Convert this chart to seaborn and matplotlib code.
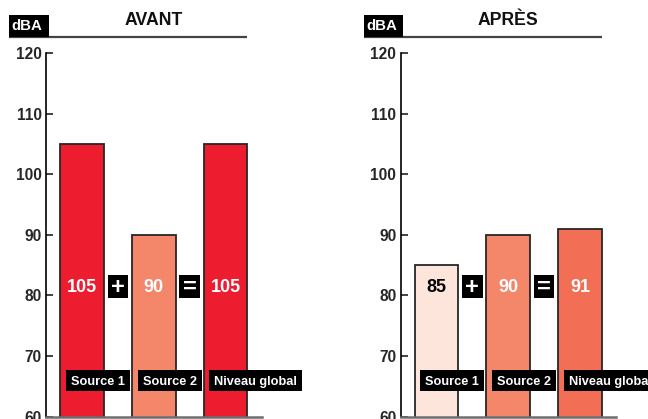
import matplotlib
matplotlib.use("Agg")
import matplotlib.pyplot as plt
import seaborn as sns
import pandas as pd
from matplotlib.patches import Rectangle
from matplotlib.transforms import blended_transform_factory

# ---- data ----
categories = ["Source 1", "Source 2", "Niveau global"]
avant_values = [105, 90, 105]
apres_values = [85, 90, 91]
avant_colors = ["#ED1C2E", "#F4866A", "#ED1C2E"]
apres_colors = ["#FDE5DC", "#F4866A", "#F26E55"]
avant_text_colors = ["white", "white", "white"]
apres_text_colors = ["black", "white", "white"]
panel_titles = ["AVANT", "APRÈS"]
operators = ["+", "="]
y_ticks = [60, 70, 80, 90, 100, 110, 120]
unit_label = "dBA"

sns.set_style("white")
plt.rcParams["font.family"] = ["Liberation Sans", "DejaVu Sans"]
plt.rcParams["font.weight"] = "bold"

W, H = 648, 419
fig = plt.figure(figsize=(W / 100, H / 100), dpi=100)

def fx(px):
    return px / W

def fy(py):
    return 1 - py / H

bar_width = 0.61
value_y = 81.3
label_y = 66.0
op_y = 81.5

panels = [
    (46, avant_values, avant_colors, avant_text_colors, panel_titles[0]),
    (400.5, apres_values, apres_colors, apres_text_colors, panel_titles[1]),
]

label_texts = []

for left_px, values, colors, tcolors, title in panels:
    ax = fig.add_axes([fx(left_px), fy(416.5), 215.5 / W, (416.5 - 53) / H])
    df = pd.DataFrame({"cat": categories, "val": values})
    sns.barplot(data=df, x="cat", y="val", hue="cat", palette=colors,
                order=categories, hue_order=categories, legend=False,
                width=bar_width, edgecolor="#262626", linewidth=1.3,
                saturation=1, ax=ax)
    ax.set_ylim(60, 120)
    ax.set_xlim(-0.5, 2.5)
    ax.set_yticks(y_ticks)
    ax.set_yticklabels([str(t) for t in y_ticks], fontsize=11.2, fontweight="bold")
    ax.set_xticks([])
    ax.set_xlabel("")
    ax.set_ylabel("")
    ax.tick_params(axis="y", direction="in", length=5, width=1.2, color="#222222",
                   pad=3, left=True)
    for s in ["top", "right"]:
        ax.spines[s].set_visible(False)
    ax.spines["left"].set_color("black")
    ax.spines["left"].set_linewidth(1.2)
    ax.spines["bottom"].set_color("#6e6e6e")
    ax.spines["bottom"].set_linewidth(1.8)
    ax.patch.set_alpha(0)

    for i, (v, tc) in enumerate(zip(values, tcolors)):
        ax.text(i, value_y, str(v), ha="center", va="center", color=tc,
                fontsize=13, fontweight="bold")
        t = ax.text(i - bar_width / 2 + 0.15, label_y, categories[i], ha="left",
                    va="center_baseline", color="white", fontsize=9.2,
                    fontweight="bold", clip_on=False, zorder=7)
        label_texts.append((ax, t))

    px_per_unit = 215.5 / 3
    px_per_y = (416.5 - 53) / 60
    bw = 20.5 / px_per_unit
    bh = 23 / px_per_y
    for j, op in enumerate(operators):
        xc = j + 0.5
        ax.add_patch(Rectangle((xc - bw / 2, op_y - bh / 2), bw, bh,
                               fc="black", ec="none", zorder=5))
        ax.annotate(op, (xc, op_y), xytext=(0, -5.6), textcoords="offset points",
                    ha="center", va="baseline", color="white",
                    fontsize=17, fontweight="bold", zorder=6)

    fig.text(fx(left_px + 107.75), fy(20.5), title, ha="center", va="center",
             fontsize=12.7, fontweight="bold", color="#111111")

    tr = blended_transform_factory(ax.transData, fig.transFigure)
    box_left_data = -37 / px_per_unit - 0.5
    ax.plot([box_left_data, 2 + bar_width / 2], [fy(37), fy(37)], color="#444444",
            lw=1.6, transform=tr, clip_on=False, solid_capstyle="butt")

    fig.patches.append(Rectangle((fx(left_px - 37), fy(37)), 40 / W, 22 / H,
                                 transform=fig.transFigure, fc="black",
                                 ec="none", figure=fig))
    fig.text(fx(left_px - 34.5), fy(26.5), unit_label, ha="left", va="center",
             color="white", fontsize=10.8, fontweight="bold")

# black boxes behind category labels, sized from the rendered text
fig.canvas.draw()
renderer = fig.canvas.get_renderer()
for ax, t in label_texts:
    bb = t.get_window_extent(renderer)
    yc = ax.transData.transform((0, label_y))[1]
    inv = ax.transData.inverted()
    (dx0, dy0) = inv.transform((bb.x0 - 5, yc - 10.5))
    (dx1, dy1) = inv.transform((bb.x1 + 5, yc + 10.5))
    ax.add_patch(Rectangle((dx0, dy0), dx1 - dx0, dy1 - dy0, fc="black",
                           ec="none", zorder=6.5, clip_on=False))

fig.savefig("out.png", dpi=100)
